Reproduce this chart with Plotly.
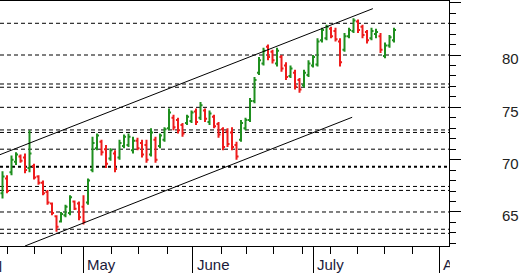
import plotly.graph_objects as go

# ---- data (bar index = trading session, left to right) ----
bar_idx = list(range(88))
opens = [66.8, 68.2, 68.8, 69.8, 70.3, 70.2, 69.2, 69.4, 68.4, 67.8,
         66.9, 65.8, 64.6, 64.1, 64.7, 64.9, 66.0, 65.8, 65.5, 65.9,
         69.0, 71.1, 71.7, 71.0, 70.1, 70.6, 70.2, 71.3, 71.4, 70.9,
         71.8, 71.6, 71.4, 70.5, 71.9, 71.3, 71.9, 73.0, 74.0, 73.8,
         73.3, 73.5, 73.7, 74.6, 74.0, 74.7, 73.6, 74.1, 73.4, 72.9,
         72.7, 72.6, 71.4, 71.9, 73.0, 73.8, 75.6, 78.3, 79.2, 80.8,
         80.3, 79.2, 79.8, 79.0, 78.0, 78.3, 77.6, 77.1, 78.1, 79.0,
         79.1, 81.4, 81.6, 82.5, 82.3, 81.3, 80.5, 81.8, 82.3, 83.2,
         82.7, 82.2, 81.6, 82.0, 81.8, 79.9, 80.9, 81.4]
highs = [68.9, 68.5, 70.4, 70.7, 70.5, 70.6, 72.8, 69.6, 68.5, 68.0,
         67.1, 65.9, 64.7, 65.0, 65.7, 66.6, 66.1, 66.0, 66.6, 68.2,
         72.2, 72.5, 71.9, 71.4, 71.1, 70.9, 71.9, 72.4, 72.5, 72.2,
         72.1, 71.9, 71.9, 73.0, 72.2, 72.5, 73.1, 74.9, 74.3, 74.0,
         73.5, 74.3, 74.7, 74.9, 75.5, 74.9, 74.7, 74.3, 73.6, 73.1,
         73.0, 73.1, 71.7, 73.8, 74.0, 75.9, 77.9, 79.8, 80.7, 81.0,
         80.5, 80.7, 80.0, 79.3, 79.0, 78.6, 77.8, 78.6, 79.5, 80.0,
         81.6, 82.6, 82.9, 82.7, 82.6, 81.6, 82.1, 82.6, 83.5, 83.4,
         82.9, 82.4, 82.6, 82.5, 82.1, 81.2, 81.9, 82.6]
lows = [66.3, 66.8, 68.5, 69.5, 69.7, 68.7, 68.8, 68.1, 67.6, 66.6,
        65.7, 64.7, 63.1, 64.0, 64.5, 64.7, 65.2, 64.2, 63.8, 65.7,
        68.8, 70.9, 70.4, 69.2, 69.9, 68.8, 70.0, 71.1, 71.2, 70.6,
        70.9, 70.2, 69.7, 70.3, 69.7, 71.1, 71.7, 72.8, 72.8, 72.5,
        72.2, 73.3, 73.5, 73.3, 73.8, 73.6, 73.3, 73.0, 72.1, 70.9,
        71.2, 70.9, 70.0, 71.7, 72.8, 73.6, 75.4, 78.1, 79.0, 79.5,
        79.2, 78.9, 78.4, 77.6, 77.8, 76.7, 76.4, 76.9, 77.9, 78.8,
        78.9, 81.2, 81.4, 81.6, 81.3, 78.9, 80.3, 81.6, 82.1, 82.1,
        81.6, 81.1, 81.4, 81.6, 80.2, 79.7, 80.7, 81.2]
closes = [68.4, 67.0, 70.0, 70.5, 69.9, 69.0, 70.6, 68.3, 67.8, 66.8,
          65.9, 64.9, 63.6, 64.8, 65.5, 66.4, 65.3, 64.5, 64.1, 68.0,
          71.6, 72.3, 70.7, 69.6, 70.9, 69.1, 71.6, 72.2, 72.2, 71.8,
          71.1, 70.5, 70.0, 72.6, 70.0, 72.3, 72.9, 74.5, 73.1, 72.8,
          72.5, 74.1, 74.5, 73.6, 75.2, 73.9, 74.4, 73.2, 72.4, 71.2,
          71.5, 71.2, 70.3, 73.5, 73.8, 75.6, 77.6, 79.5, 80.4, 79.8,
          79.5, 80.4, 78.7, 77.9, 78.7, 77.0, 76.7, 78.3, 79.2, 79.8,
          81.3, 82.4, 82.7, 81.8, 81.5, 79.3, 81.8, 82.4, 83.3, 82.4,
          81.9, 81.4, 82.3, 82.2, 80.5, 80.9, 81.7, 82.4]

# horizontal support/resistance levels (dashed); the heavy one flagged
levels = [83.03, 80.0, 77.23, 76.92, 75.0, 72.84, 72.6, 71.0, 69.33,
          67.44, 67.06, 65.0, 63.35, 62.96]
heavy_level = 69.33

# trend channel (bar index, price)
chan_upper_x = [-0.6, 82.3]
chan_upper_y = [70.47, 84.43]
chan_lower_x = [5.0, 77.7]
chan_lower_y = [61.75, 74.05]

# axis ticks (bar-index positions)
month_ticks = [17.89, 42.33, 69.0, 97.0]
month_labels = ["May", "June", "July", "August"]
week_ticks = [1.0, 7.0, 13.22, 24.33, 30.33, 36.56, 48.56, 54.33, 60.33,
              66.56, 72.78, 78.78, 84.78, 91.0]
y_tickvals = [65, 70, 75, 80, 85]
y_ticktext = ["65", "70", "75", "80", ""]

x_range = [-0.556, 99.22]
y_range = [61.75, 85.16]

GREEN = "#1f8f1f"
RED = "#ee1c1c"
FONT = "Liberation Sans Narrow, Arial Narrow, Liberation Sans, Arial, sans-serif"

fig = go.Figure()
fig.add_trace(go.Ohlc(
    x=bar_idx, open=opens, high=highs, low=lows, close=closes,
    increasing=dict(line=dict(color=GREEN, width=2)),
    decreasing=dict(line=dict(color=RED, width=2)),
    tickwidth=0.45, hoverinfo="skip", showlegend=False,
))

shapes = []
for lv in levels:
    heavy = abs(lv - heavy_level) < 1e-9
    shapes.append(dict(
        type="line", xref="paper", yref="y", x0=0, x1=1, y0=lv, y1=lv,
        line=dict(color="black", width=2 if heavy else 1,
                  dash="3px,3px" if heavy else "4px,3px"),
        layer="below"))
shapes.append(dict(type="line", xref="x", yref="y",
                   x0=chan_upper_x[0], x1=chan_upper_x[1],
                   y0=chan_upper_y[0], y1=chan_upper_y[1],
                   line=dict(color="black", width=1), layer="above"))
shapes.append(dict(type="line", xref="x", yref="y",
                   x0=chan_lower_x[0], x1=chan_lower_x[1],
                   y0=chan_lower_y[0], y1=chan_lower_y[1],
                   line=dict(color="black", width=1), layer="above"))
# clip month labels at the right edge of the plot area
shapes.append(dict(type="rect", xref="paper", yref="paper",
                   x0=1.002, x1=1.2, y0=-0.2, y1=-0.004,
                   fillcolor="white", line=dict(width=0), layer="above"))

fig.update_layout(
    width=520, height=273,
    margin=dict(l=0, r=71, t=1, b=27, pad=0),
    paper_bgcolor="white", plot_bgcolor="white",
    shapes=shapes,
    showlegend=False,
    annotations=[dict(text="April", xref="paper", yref="paper", x=0, y=0,
                      xanchor="right", yanchor="top", xshift=4, yshift=-10,
                      showarrow=False,
                      font=dict(family=FONT, size=15, color="#1a1a3a"))],
)
fig.update_xaxes(
    range=x_range, rangeslider=dict(visible=False),
    showgrid=False, zeroline=False,
    showline=True, linecolor="black", linewidth=1, mirror=True,
    tickmode="array", tickvals=month_ticks, ticktext=month_labels,
    ticks="outside", ticklen=27, tickcolor="black", tickwidth=1,
    ticklabelposition="outside right", ticklabelstandoff=5, ticklabelshift=3,
    tickfont=dict(family=FONT, size=15, color="#1a1a3a"),
    minor=dict(tickmode="array", tickvals=week_ticks, ticks="outside",
               ticklen=7, tickcolor="black", tickwidth=1, showgrid=False),
)
fig.update_yaxes(
    range=y_range, side="right",
    showgrid=False, zeroline=False,
    showline=True, linecolor="black", linewidth=1,
    tickmode="array", tickvals=y_tickvals, ticktext=y_ticktext,
    ticks="outside", ticklen=11, tickcolor="black", tickwidth=1,
    ticklabelstandoff=38, ticklabelshift=4,
    tickfont=dict(family=FONT, size=15, color="#222222"),
    minor=dict(dtick=1, tick0=0, ticks="outside", ticklen=6,
               tickcolor="black", tickwidth=1, showgrid=False),
)

fig.write_html("out.html")
